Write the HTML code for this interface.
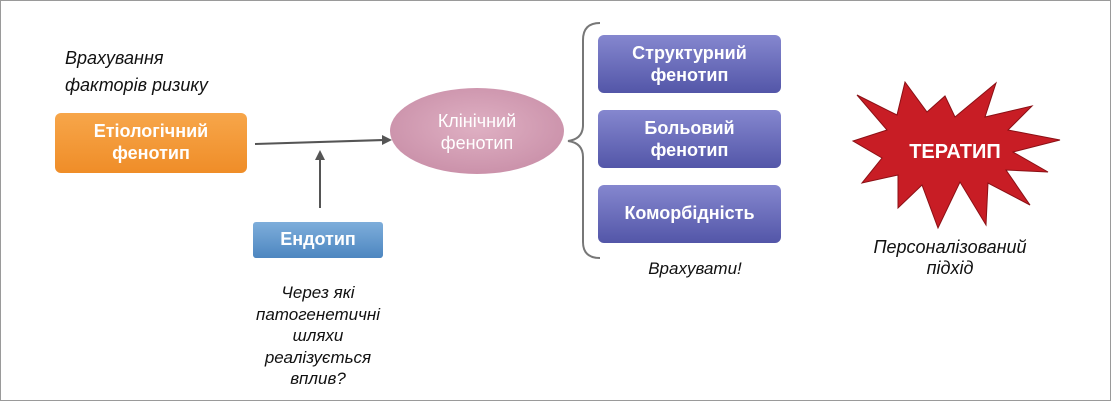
<!DOCTYPE html>
<html><head><meta charset="utf-8"><style>
html,body{margin:0;padding:0;background:#fff}
body{width:1112px;height:402px;overflow:hidden;position:relative;font-family:"Liberation Sans",sans-serif}
.it{position:absolute;font-style:italic;font-size:17px;color:#111;line-height:21px}
</style></head><body>
<svg width="1112" height="402" style="position:absolute;left:0;top:0">
<defs>
<linearGradient id="og" x1="0" y1="0" x2="0" y2="1"><stop offset="0" stop-color="#f7a64a"/><stop offset="1" stop-color="#ef8d28"/></linearGradient>
<linearGradient id="bg" x1="0" y1="0" x2="0" y2="1"><stop offset="0" stop-color="#7eaedb"/><stop offset="1" stop-color="#4d86c0"/></linearGradient>
<linearGradient id="pg" x1="0" y1="0" x2="0" y2="1"><stop offset="0" stop-color="#8587cf"/><stop offset="1" stop-color="#5356a8"/></linearGradient>
<radialGradient id="ell" cx="0.5" cy="0.45" r="0.6"><stop offset="0" stop-color="#dfb0c3"/><stop offset="1" stop-color="#c98fa8"/></radialGradient>
</defs>
<rect x="0.5" y="0.5" width="1110" height="400" fill="none" stroke="#9a9a9a"/>
<rect x="55" y="113" width="192" height="60" rx="6" fill="url(#og)"/>
<line x1="255" y1="144" x2="384" y2="140" stroke="#555" stroke-width="2"/>
<polygon points="392,140 382,135 382,145" fill="#555"/>
<line x1="320" y1="208" x2="320" y2="158" stroke="#555" stroke-width="2"/>
<polygon points="320,150 315,160 325,160" fill="#555"/>
<rect x="253" y="222" width="130" height="36" rx="3" fill="url(#bg)"/>
<ellipse cx="477" cy="131" rx="87" ry="43" fill="url(#ell)"/>
<path d="M600,23 Q583,23 583,40 L583,125 Q583,139 568,141 Q583,143 583,157 L583,242 Q583,258 600,258" fill="none" stroke="#777" stroke-width="2"/>
<rect x="598" y="35" width="183" height="58" rx="6" fill="url(#pg)"/>
<rect x="598" y="110" width="183" height="58" rx="6" fill="url(#pg)"/>
<rect x="598" y="185" width="183" height="58" rx="6" fill="url(#pg)"/>
<polygon fill="#c81d25" stroke="#8a1015" stroke-width="1" points="857,95 897,115 905,82 927,112 945,96 955,117 996,83 985,117 1032,106 1008,130 1060,140 1013,152 1048,172 1006,170 1030,205 988,183 986,225 960,182 938,228 922,185 898,208 898,175 862,183 882,158 853,141 887,130"/>
</svg>
<div class="it" style="left:65px;top:45px;font-size:18px;line-height:27px">Врахування<br>факторів ризику</div>
<div style="position:absolute;left:55px;top:120px;width:192px;text-align:center;color:#fff;font-weight:bold;font-size:18px;line-height:22px">Етіологічний<br>фенотип</div>
<div style="position:absolute;left:253px;top:229px;width:130px;text-align:center;color:#fff;font-weight:bold;font-size:18px">Ендотип</div>
<div class="it" style="left:220px;top:282px;width:196px;text-align:center;line-height:21.5px">Через які<br>патогенетичні<br>шляхи<br>реалізується<br>вплив?</div>
<div style="position:absolute;left:390px;top:110px;width:174px;text-align:center;color:#fff;font-size:18px;line-height:22px">Клінічний<br>фенотип</div>
<div style="position:absolute;left:598px;top:42px;width:183px;text-align:center;color:#fff;font-weight:bold;font-size:18px;line-height:22px">Структурний<br>фенотип</div>
<div style="position:absolute;left:598px;top:117px;width:183px;text-align:center;color:#fff;font-weight:bold;font-size:18px;line-height:22px">Больовий<br>фенотип</div>
<div style="position:absolute;left:598px;top:203px;width:183px;text-align:center;color:#fff;font-weight:bold;font-size:18px">Коморбідність</div>
<div class="it" style="left:600px;top:258px;width:190px;text-align:center">Врахувати!</div>
<div style="position:absolute;left:900px;top:141px;width:110px;text-align:center;color:#fff;font-weight:bold;font-size:20px">ТЕРАТИП</div>
<div class="it" style="left:850px;top:237px;width:200px;text-align:center;font-size:18px">Персоналізований<br>підхід</div>
</body></html>
